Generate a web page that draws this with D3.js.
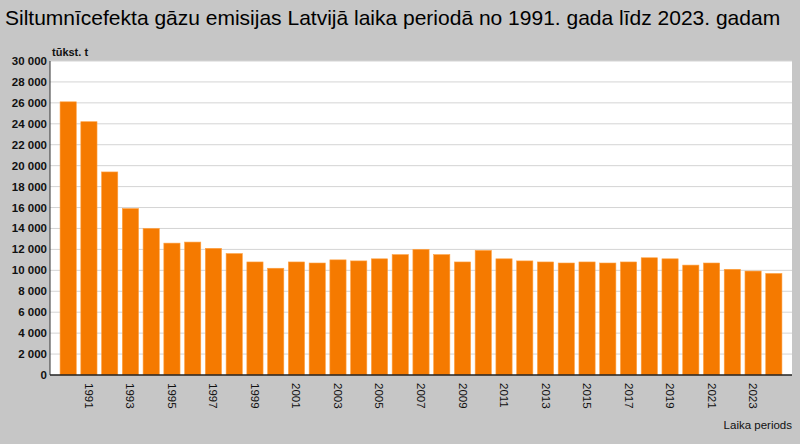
<!DOCTYPE html>
<html>
<head>
<style>
  body { margin: 0; background: #c6c6c6; font-family: "Liberation Sans", Arial, sans-serif; }
</style>
<script src="https://cdn.jsdelivr.net/npm/d3@7"></script>
</head>
<body>
<svg id="chart" width="800" height="444"></svg>
<script>
var years = d3.range(1990, 2025).map(String);
var values = [26100, 24200, 19400, 15900, 14000, 12600, 12700, 12100, 11600, 10800,
              10200, 10800, 10700, 11000, 10900, 11100, 11500, 12000, 11500, 10800,
              11900, 11100, 10900, 10800, 10700, 10800, 10700, 10800, 11200, 11100,
              10500, 10700, 10100, 9930, 9700];
var yTicks = d3.range(0, 30001, 2000);

var svg = d3.select("#chart");
var pLeft = 50, pRight = 792, pTop = 61, pBottom = 375;

svg.append("rect").attr("width", 800).attr("height", 444).attr("fill", "#c6c6c6");
svg.append("rect").attr("x", pLeft).attr("y", pTop)
  .attr("width", pRight - pLeft).attr("height", pBottom - pTop).attr("fill", "#fff");

var x = d3.scaleBand().domain(years).range([58, 784]).paddingInner(0.22).paddingOuter(0.1);
var y = d3.scaleLinear().domain([0, 30000]).range([pBottom, pTop]);

// gridlines
svg.append("g").selectAll("line").data(yTicks.slice(1)).join("line")
  .attr("x1", pLeft).attr("x2", pRight)
  .attr("y1", d => y(d)).attr("y2", d => y(d))
  .attr("stroke", "#d4d4d4");

// bars
svg.append("g").selectAll("rect").data(values).join("rect")
  .attr("x", (d, i) => x(years[i]))
  .attr("y", d => y(d))
  .attr("width", x.bandwidth())
  .attr("height", d => y(0) - y(d))
  .attr("fill", "#f57a00")
  .attr("stroke", "#ffa040").attr("stroke-width", 0.6);

// y axis labels
var fmt = d => d3.format(",")(d).replace(/,/g, " ");
svg.append("g").selectAll("text").data(yTicks).join("text")
  .attr("x", pLeft - 3).attr("y", d => y(d) + 4)
  .attr("text-anchor", "end").attr("font-size", 11.5).attr("font-weight", "bold")
  .attr("fill", "#111").text(fmt);

svg.append("line").attr("x1", pLeft).attr("x2", pLeft).attr("y1", pTop).attr("y2", pBottom)
  .attr("stroke", "#333");
svg.append("line").attr("x1", pLeft).attr("x2", pRight).attr("y1", pBottom).attr("y2", pBottom)
  .attr("stroke", "#222").attr("stroke-width", 1.5);

// x labels, every other year starting 1991, rotated
svg.append("g").selectAll("text").data(years.filter(d => +d % 2 === 1 && +d < 2024)).join("text")
  .attr("transform", d => "translate(" + (x(d) + x.bandwidth() / 2 - 4) + "," + (pBottom + 8) + ") rotate(90)")
  .attr("font-size", 11.5).attr("fill", "#111").text(d => d);

svg.append("text").attr("x", 52).attr("y", 56).attr("font-size", 11).attr("font-weight", "bold")
  .attr("fill", "#111").text("tūkst. t");
svg.append("text").attr("x", 792).attr("y", 429).attr("text-anchor", "end")
  .attr("font-size", 11.5).attr("fill", "#111").text("Laika periods");
svg.append("text").attr("x", 5).attr("y", 25).attr("font-size", 21)
  .attr("fill", "#000").text("Siltumnīcefekta gāzu emisijas Latvijā laika periodā no 1991. gada līdz 2023. gadam");
</script>
</body>
</html>
